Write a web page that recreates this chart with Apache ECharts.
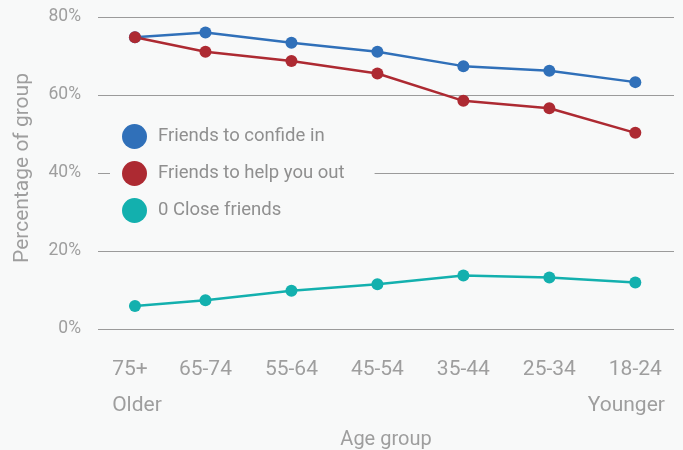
<!DOCTYPE html>
<html>
<head>
<meta charset="utf-8">
<script src="https://cdn.jsdelivr.net/npm/echarts@6/dist/echarts.min.js"></script>
<style>
  html, body { margin: 0; padding: 0; background: #f8f9f9; }
  #chart { width: 683px; height: 450px; }
</style>
</head>
<body>
<div id="chart"></div>
<script>
// Age groups, oldest first, with the approximate age each group is plotted at
const ageGroups = ['75+', '65-74', '55-64', '45-54', '35-44', '25-34', '18-24'];
const agePosition = [77.7, 69.5, 59.5, 49.5, 39.5, 29.5, 19.5];

// Share of each age group (percent)
const confideIn = [74.8, 76.0, 73.4, 71.1, 67.4, 66.2, 63.3];
const helpOut = [74.8, 71.1, 68.7, 65.5, 58.5, 56.6, 50.3];
const zeroClose = [5.9, 7.4, 9.8, 11.5, 13.7, 13.2, 11.9];

const yTicks = [0, 20, 40, 60, 80];

const gray = '#9e9e9e';
const bg = '#f8f9f9';
const fontFamily = 'Roboto, "Noto Sans", sans-serif';

function pairs(values) {
  return values.map((v, i) => [agePosition[i], v]);
}

function line(name, values, color) {
  return {
    name,
    type: 'line',
    data: pairs(values),
    symbol: 'circle',
    symbolSize: 12,
    lineStyle: { color, width: 2.5 },
    itemStyle: { color },
    emphasis: { disabled: true },
    z: 3
  };
}

const labelText = { fontSize: 21, lineHeight: 36, color: gray, fontFamily };

const chart = echarts.init(document.getElementById('chart'));
chart.setOption({
  backgroundColor: bg,
  animation: false,
  textStyle: { fontFamily },
  grid: { left: 98, right: 9, top: 17, bottom: 121, containLabel: false, outerBoundsMode: 'none' },
  legend: {
    orient: 'vertical',
    left: 110,
    top: 112,
    padding: [12, 30, 12, 12],
    backgroundColor: bg,
    icon: 'circle',
    itemWidth: 25,
    itemHeight: 25,
    itemGap: 12,
    z: 4,
    textStyle: { color: '#8f8f8f', fontSize: 18.5, fontFamily, padding: [0, 0, 0, 6] },
    data: ['Friends to confide in', 'Friends to help you out', '0 Close friends']
  },
  xAxis: {
    type: 'value',
    inverse: true,
    min: 15,
    max: 82,
    name: 'Age group',
    nameLocation: 'middle',
    nameGap: 101,
    nameTextStyle: { color: gray, fontSize: 20, fontFamily },
    axisLine: { show: false },
    axisTick: { show: false },
    splitLine: { show: false },
    axisLabel: {
      customValues: agePosition,
      margin: 23,
      color: gray,
      fontFamily,
      formatter: function (v) {
        const i = agePosition.indexOf(v);
        const label = ageGroups[i];
        if (i === 0) return '{f|' + label + '}\n{o|Older}';
        if (i === ageGroups.length - 1) return '{t|' + label + '}\n{y|Younger}';
        return '{t|' + label + '}\n{t|}';
      },
      rich: {
        t: labelText,
        f: Object.assign({}, labelText, { padding: [0, 10, 0, 0] }),
        o: Object.assign({}, labelText, { padding: [0, 0, 0, 4] }),
        y: Object.assign({}, labelText, { padding: [0, 18, 0, 0] })
      }
    }
  },
  yAxis: {
    type: 'value',
    min: yTicks[0],
    max: yTicks[yTicks.length - 1],
    interval: yTicks[1] - yTicks[0],
    name: 'Percentage of group',
    nameLocation: 'middle',
    nameGap: 65,
    nameTextStyle: { color: gray, fontSize: 21, fontFamily, padding: [0, 0, 0, 10] },
    axisLine: { show: false },
    axisTick: { show: false },
    axisLabel: { color: gray, fontSize: 17.5, fontFamily, margin: 17, formatter: '{value}%' },
    splitLine: { lineStyle: { color: '#9b9b9b', width: 1 } }
  },
  series: [
    line('Friends to confide in', confideIn, '#3070b9'),
    line('Friends to help you out', helpOut, '#ad2a32'),
    line('0 Close friends', zeroClose, '#13b0ae')
  ]
});
</script>
</body>
</html>
